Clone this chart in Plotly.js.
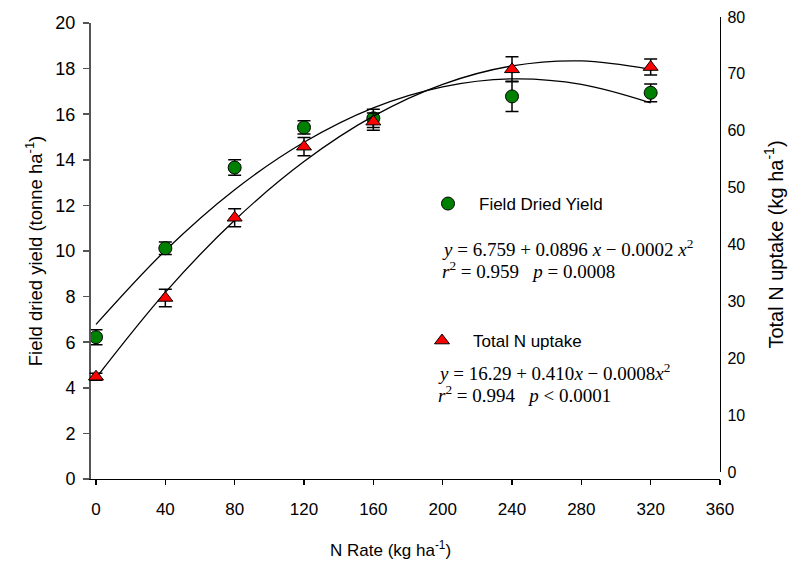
<!DOCTYPE html>
<html>
<head>
<meta charset="utf-8">
<script src="https://cdn.plot.ly/plotly-3.0.1.min.js"></script>
<style>html,body{margin:0;padding:0;background:#fff;}#chart{width:793px;height:562px;}</style>
</head>
<body>
<div id="chart"></div>
<script>
// N rate categories (kg ha-1)
var nRate = [0, 40, 80, 120, 160, 240, 320];
// Field dried yield (tonne ha-1), left axis
var yieldMean = [6.22, 10.12, 13.66, 15.42, 15.82, 16.78, 16.94];
var yieldErr  = [0.33, 0.27, 0.34, 0.29, 0.40, 0.66, 0.39];
// Total N uptake (kg ha-1), right axis
var nUptake    = [16.75, 30.6, 44.7, 57.2, 61.6, 70.8, 71.2];
var nUptakeErr = [0.6, 1.55, 1.6, 1.6, 1.5, 2.2, 1.4];
// Fitted curves
var fitX      = [0, 40, 80, 120, 160, 200, 240, 280, 320];
var yieldFitY = [6.78, 10.02, 12.69, 14.77, 16.28, 17.20, 17.55, 17.31, 16.50];
var nFitY     = [16.53, 31.58, 44.27, 54.59, 62.56, 68.16, 71.40, 72.28, 70.80];
// Axis ticks
var xTicks  = [0, 40, 80, 120, 160, 200, 240, 280, 320, 360];
var y1Ticks = [0, 2, 4, 6, 8, 10, 12, 14, 16, 18, 20];
var y2Ticks = [0, 10, 20, 30, 40, 50, 60, 70, 80];

var sans = 'Arial, "Liberation Sans", sans-serif';
var serif = '"Times New Roman", "Liberation Serif", serif';

var traces = [
  {x: fitX, y: yieldFitY, xaxis: 'x', yaxis: 'y', mode: 'lines', line: {color: '#000', width: 1.3, shape: 'spline'}, showlegend: false, hoverinfo: 'skip'},
  {x: fitX, y: nFitY, xaxis: 'x', yaxis: 'y2', mode: 'lines', line: {color: '#000', width: 1.3, shape: 'spline'}, showlegend: false, hoverinfo: 'skip'},
  {x: nRate, y: yieldMean, xaxis: 'x', yaxis: 'y', mode: 'markers', name: 'Field Dried Yield', legend: 'legend',
   marker: {symbol: 'circle', size: 13, color: '#008000', line: {color: '#000', width: 1}},
   error_y: {type: 'data', array: yieldErr, visible: true, color: '#000', thickness: 1.5, width: 6.5}},
  {x: nRate, y: nUptake, xaxis: 'x', yaxis: 'y2', mode: 'markers', name: 'Total N uptake', legend: 'legend2',
   marker: {symbol: 'triangle-up', size: 13, color: '#ff0000', line: {color: '#000', width: 1}},
   error_y: {type: 'data', array: nUptakeErr, visible: true, color: '#000', thickness: 1.5, width: 6.5}}
];

function py(p) { return (479 - p) / 462; }
function px(p) { return (p - 83) / 637; }

var layout = {
  width: 793, height: 562,
  margin: {l: 83, r: 73, t: 17, b: 83, autoexpand: false},
  paper_bgcolor: '#fff', plot_bgcolor: 'rgba(0,0,0,0)',
  font: {family: sans, color: '#000'},
  showlegend: true,
  xaxis: {
    range: [-7.5, 360], domain: [0, 1], anchor: 'y',
    tickmode: 'array', tickvals: xTicks, ticktext: xTicks.map(String),
    showline: true, linecolor: '#000', linewidth: 1.2,
    ticks: 'outside', ticklen: 5, tickcolor: '#000', tickwidth: 1.2,
    ticklabelstandoff: 9,
    tickfont: {family: sans, size: 17, color: '#000'},
    showgrid: false, zeroline: false
  },
  yaxis: {
    range: [0, 20], domain: [0, 456/462], anchor: 'free', position: 6/637, side: 'left',
    tickmode: 'array', tickvals: y1Ticks, ticktext: y1Ticks.map(String),
    showline: true, linecolor: '#555', linewidth: 1.5,
    ticks: 'outside', ticklen: 6, tickcolor: '#555', tickwidth: 1.5,
    ticklabelstandoff: 4,
    tickfont: {family: sans, size: 18, color: '#000'},
    showgrid: false, zeroline: false,
    title: {text: 'Field dried yield (tonne ha<sup>-1</sup>)', font: {family: sans, size: 18.5, color: '#000'}, standoff: 6}
  },
  yaxis2: {
    range: [0, 80], domain: [7/462, 1], anchor: 'x', side: 'right',
    tickmode: 'array', tickvals: y2Ticks, ticktext: y2Ticks.map(String),
    showline: true, linecolor: '#000', linewidth: 1.2,
    ticks: 'outside', ticklen: 3, tickcolor: 'rgba(0,0,0,0)',
    ticklabelstandoff: 0,
    tickfont: {family: sans, size: 16, color: '#000'},
    showgrid: false, zeroline: false,
    title: {text: 'Total N uptake (kg ha<sup>-1</sup>)', font: {family: sans, size: 20, color: '#000'}, standoff: 24}
  },
  legend: {
    x: px(417), y: py(204), xanchor: 'left', yanchor: 'middle', xref: 'paper', yref: 'paper',
    bgcolor: 'rgba(0,0,0,0)', borderwidth: 0, itemwidth: 52,
    font: {family: sans, size: 17, color: '#000'}
  },
  legend2: {
    x: px(411), y: py(341), xanchor: 'left', yanchor: 'middle', xref: 'paper', yref: 'paper',
    bgcolor: 'rgba(0,0,0,0)', borderwidth: 0, itemwidth: 52,
    font: {family: sans, size: 17, color: '#000'}
  },
  annotations: [
    {xref: 'paper', yref: 'paper', x: px(390), y: py(549), xanchor: 'center', yanchor: 'middle', showarrow: false,
     font: {family: sans, size: 17, color: '#000'},
     text: 'N Rate (kg ha<sup>-1</sup>)'},
    {xref: 'paper', yref: 'paper', x: px(440), y: py(248), xanchor: 'left', yanchor: 'middle', align: 'left', showarrow: false,
     font: {family: serif, size: 19, color: '#000'},
     text: '<i>y</i> = 6.759 + 0.0896 <i>x</i> \u2212 0.0002 <i>x</i><sup>2</sup>'},
    {xref: 'paper', yref: 'paper', x: px(440), y: py(270), xanchor: 'left', yanchor: 'middle', align: 'left', showarrow: false,
     font: {family: serif, size: 19, color: '#000'},
     text: '<i>r</i><sup>2</sup> = 0.959   <i>p</i> = 0.0008'},
    {xref: 'paper', yref: 'paper', x: px(436), y: py(372), xanchor: 'left', yanchor: 'middle', align: 'left', showarrow: false,
     font: {family: serif, size: 19, color: '#000'},
     text: '<i>y</i> = 16.29 + 0.410<i>x</i> \u2212 0.0008<i>x</i><sup>2</sup>'},
    {xref: 'paper', yref: 'paper', x: px(436), y: py(394), xanchor: 'left', yanchor: 'middle', align: 'left', showarrow: false,
     font: {family: serif, size: 19, color: '#000'},
     text: '<i>r</i><sup>2</sup> = 0.994   <i>p</i> &lt; 0.0001'}
  ]
};

Plotly.newPlot('chart', traces, layout, {displayModeBar: false, staticPlot: true});
</script>
</body>
</html>
